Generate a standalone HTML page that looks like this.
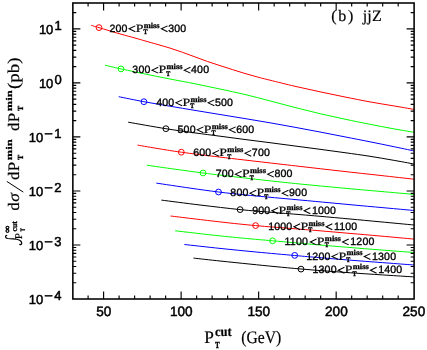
<!DOCTYPE html>
<html><head><meta charset="utf-8"><style>html,body{margin:0;padding:0;background:#fff}svg{display:block;will-change:transform}text{font-family:"Liberation Sans",sans-serif;text-rendering:geometricPrecision}.s{font-family:"Liberation Serif",serif}.sb{font-family:"Liberation Serif",serif;font-weight:bold}</style></head><body>
<svg width="427" height="350" viewBox="0 0 427 350">
<path d="M91.00,25.30 C92.33,25.69 94.17,26.22 99.00,27.65 C103.83,29.08 114.00,32.17 120.00,33.90 C126.00,35.62 130.83,36.83 135.00,38.00 C139.17,39.17 141.17,39.80 145.00,40.90 C148.83,42.00 153.83,43.40 158.00,44.60 C162.17,45.80 165.92,46.82 170.00,48.10 C174.08,49.38 178.33,50.83 182.50,52.30 C186.67,53.77 190.83,55.37 195.00,56.90 C199.17,58.43 203.33,60.05 207.50,61.50 C211.67,62.95 215.83,64.25 220.00,65.60 C224.17,66.95 228.33,68.28 232.50,69.60 C236.67,70.92 240.83,72.27 245.00,73.50 C249.17,74.73 253.33,75.88 257.50,77.00 C261.67,78.12 263.75,78.65 270.00,80.20 C276.25,81.75 286.67,84.37 295.00,86.30 C303.33,88.23 311.67,90.02 320.00,91.80 C328.33,93.58 336.67,95.32 345.00,97.00 C353.33,98.68 362.17,100.47 370.00,101.90 C377.83,103.33 384.67,104.35 392.00,105.60 C399.33,106.85 410.33,108.77 414.00,109.40" fill="none" stroke="#ff0000" stroke-width="1.0"/>
<circle cx="99.0" cy="27.6" r="2.9" fill="none" stroke="#ff0000" stroke-width="1"/>
<path d="M104.90,65.20 C107.58,65.82 113.48,67.27 121.00,68.90 C128.52,70.53 141.83,73.32 150.00,75.00 C158.17,76.68 162.50,77.53 170.00,79.00 C177.50,80.47 186.67,82.13 195.00,83.80 C203.33,85.47 211.67,87.22 220.00,89.00 C228.33,90.78 236.67,92.52 245.00,94.50 C253.33,96.48 261.67,98.73 270.00,100.90 C278.33,103.07 286.67,105.37 295.00,107.50 C303.33,109.63 311.67,111.75 320.00,113.70 C328.33,115.65 336.67,117.43 345.00,119.20 C353.33,120.97 362.17,122.75 370.00,124.30 C377.83,125.85 384.67,127.17 392.00,128.50 C399.33,129.83 410.33,131.67 414.00,132.30" fill="none" stroke="#00ff00" stroke-width="1.0"/>
<circle cx="121.0" cy="68.9" r="2.9" fill="none" stroke="#00ff00" stroke-width="1"/>
<path d="M118.70,96.70 C122.90,97.53 135.35,100.12 143.90,101.70 C152.45,103.28 161.48,104.75 170.00,106.20 C178.52,107.65 186.67,109.02 195.00,110.40 C203.33,111.78 211.67,113.13 220.00,114.50 C228.33,115.87 236.67,117.22 245.00,118.60 C253.33,119.98 261.67,121.35 270.00,122.80 C278.33,124.25 286.67,125.77 295.00,127.30 C303.33,128.83 311.67,130.40 320.00,132.00 C328.33,133.60 336.67,135.27 345.00,136.90 C353.33,138.53 362.17,140.23 370.00,141.80 C377.83,143.37 384.67,144.78 392.00,146.30 C399.33,147.82 410.33,150.13 414.00,150.90" fill="none" stroke="#0000ff" stroke-width="1.0"/>
<circle cx="143.9" cy="101.7" r="2.9" fill="none" stroke="#0000ff" stroke-width="1"/>
<path d="M128.20,122.20 C134.48,123.28 154.77,126.92 165.90,128.70 C177.03,130.48 185.98,131.65 195.00,132.90 C204.02,134.15 211.67,135.10 220.00,136.20 C228.33,137.30 236.67,138.42 245.00,139.50 C253.33,140.58 261.67,141.62 270.00,142.70 C278.33,143.78 286.67,144.90 295.00,146.00 C303.33,147.10 311.67,148.18 320.00,149.30 C328.33,150.42 336.67,151.53 345.00,152.70 C353.33,153.87 362.17,155.08 370.00,156.30 C377.83,157.52 384.67,158.72 392.00,160.00 C399.33,161.28 410.33,163.33 414.00,164.00" fill="none" stroke="#000000" stroke-width="1.0"/>
<circle cx="165.9" cy="128.7" r="2.9" fill="none" stroke="#000000" stroke-width="1"/>
<path d="M137.50,145.10 C141.25,145.73 152.70,147.72 160.00,148.90 C167.30,150.08 171.30,150.83 181.30,152.20 C191.30,153.57 205.72,155.37 220.00,157.10 C234.28,158.83 253.67,161.05 267.00,162.60 C280.33,164.15 287.50,164.97 300.00,166.40 C312.50,167.83 328.67,169.70 342.00,171.20 C355.33,172.70 368.00,174.07 380.00,175.40 C392.00,176.73 408.33,178.57 414.00,179.20" fill="none" stroke="#ff0000" stroke-width="1.0"/>
<circle cx="181.3" cy="152.2" r="2.9" fill="none" stroke="#ff0000" stroke-width="1"/>
<path d="M146.90,165.20 C151.58,165.87 165.65,167.90 175.00,169.20 C184.35,170.50 195.50,172.02 203.00,173.00 C210.50,173.98 209.33,173.85 220.00,175.10 C230.67,176.35 253.67,179.02 267.00,180.50 C280.33,181.98 287.50,182.75 300.00,184.00 C312.50,185.25 328.67,186.77 342.00,188.00 C355.33,189.23 368.00,190.33 380.00,191.40 C392.00,192.47 408.33,193.90 414.00,194.40" fill="none" stroke="#00ff00" stroke-width="1.0"/>
<circle cx="203.0" cy="173.0" r="2.9" fill="none" stroke="#00ff00" stroke-width="1"/>
<path d="M156.30,183.10 C161.92,183.93 179.63,186.62 190.00,188.10 C200.37,189.58 209.33,190.87 218.50,192.00 C227.67,193.13 236.92,194.07 245.00,194.90 C253.08,195.73 257.83,196.15 267.00,197.00 C276.17,197.85 289.50,199.03 300.00,200.00 C310.50,200.97 320.00,201.87 330.00,202.80 C340.00,203.73 350.00,204.68 360.00,205.60 C370.00,206.52 381.00,207.48 390.00,208.30 C399.00,209.12 410.00,210.13 414.00,210.50" fill="none" stroke="#0000ff" stroke-width="1.0"/>
<circle cx="218.5" cy="192.0" r="2.9" fill="none" stroke="#0000ff" stroke-width="1"/>
<path d="M161.40,200.10 C167.83,200.92 186.88,203.42 200.00,205.00 C213.12,206.58 228.43,208.40 240.10,209.60 C251.77,210.80 260.02,211.37 270.00,212.20 C279.98,213.03 291.67,213.92 300.00,214.60 C308.33,215.28 311.67,215.57 320.00,216.30 C328.33,217.03 340.00,218.08 350.00,219.00 C360.00,219.92 369.33,220.80 380.00,221.80 C390.67,222.80 408.33,224.47 414.00,225.00" fill="none" stroke="#000000" stroke-width="1.0"/>
<circle cx="240.1" cy="209.6" r="2.9" fill="none" stroke="#000000" stroke-width="1"/>
<path d="M170.50,216.00 C178.75,216.98 205.82,220.30 220.00,221.90 C234.18,223.50 243.93,224.52 255.60,225.60 C267.27,226.68 279.27,227.53 290.00,228.40 C300.73,229.27 310.00,229.97 320.00,230.80 C330.00,231.63 340.00,232.53 350.00,233.40 C360.00,234.27 369.33,235.05 380.00,236.00 C390.67,236.95 408.33,238.58 414.00,239.10" fill="none" stroke="#ff0000" stroke-width="1.0"/>
<circle cx="255.6" cy="225.6" r="2.9" fill="none" stroke="#ff0000" stroke-width="1"/>
<path d="M175.20,230.80 C182.67,231.65 207.53,234.57 220.00,235.90 C232.47,237.23 241.23,237.98 250.00,238.80 C258.77,239.62 260.93,239.77 272.60,240.80 C284.27,241.83 307.10,243.88 320.00,245.00 C332.90,246.12 340.00,246.68 350.00,247.50 C360.00,248.32 369.33,249.07 380.00,249.90 C390.67,250.73 408.33,252.07 414.00,252.50" fill="none" stroke="#00ff00" stroke-width="1.0"/>
<circle cx="272.6" cy="240.8" r="2.9" fill="none" stroke="#00ff00" stroke-width="1"/>
<path d="M184.40,244.50 C190.33,245.15 207.90,247.13 220.00,248.40 C232.10,249.67 244.55,250.92 257.00,252.10 C269.45,253.28 284.20,254.57 294.70,255.50 C305.20,256.43 309.62,256.83 320.00,257.70 C330.38,258.57 345.33,259.78 357.00,260.70 C368.67,261.62 380.50,262.48 390.00,263.20 C399.50,263.92 410.00,264.70 414.00,265.00" fill="none" stroke="#0000ff" stroke-width="1.0"/>
<circle cx="294.7" cy="255.4" r="2.9" fill="none" stroke="#0000ff" stroke-width="1"/>
<path d="M193.50,258.10 C197.92,258.58 210.58,260.00 220.00,261.00 C229.42,262.00 240.83,263.17 250.00,264.10 C259.17,265.03 266.50,265.78 275.00,266.60 C283.50,267.42 291.83,268.22 301.00,269.00 C310.17,269.78 320.50,270.58 330.00,271.30 C339.50,272.02 348.00,272.62 358.00,273.30 C368.00,273.98 380.67,274.80 390.00,275.40 C399.33,276.00 410.00,276.65 414.00,276.90" fill="none" stroke="#000000" stroke-width="1.0"/>
<circle cx="301.0" cy="269.1" r="2.9" fill="none" stroke="#000000" stroke-width="1"/>
<path d="M88.09,3.00 v3.40 M88.09,299.00 v-3.40 M103.60,3.00 v7.50 M103.60,299.00 v-7.50 M119.10,3.00 v3.40 M119.10,299.00 v-3.40 M134.61,3.00 v3.40 M134.61,299.00 v-3.40 M150.12,3.00 v3.40 M150.12,299.00 v-3.40 M165.62,3.00 v3.40 M165.62,299.00 v-3.40 M181.12,3.00 v7.50 M181.12,299.00 v-7.50 M196.63,3.00 v3.40 M196.63,299.00 v-3.40 M212.13,3.00 v3.40 M212.13,299.00 v-3.40 M227.64,3.00 v3.40 M227.64,299.00 v-3.40 M243.14,3.00 v3.40 M243.14,299.00 v-3.40 M258.65,3.00 v7.50 M258.65,299.00 v-7.50 M274.15,3.00 v3.40 M274.15,299.00 v-3.40 M289.66,3.00 v3.40 M289.66,299.00 v-3.40 M305.16,3.00 v3.40 M305.16,299.00 v-3.40 M320.67,3.00 v3.40 M320.67,299.00 v-3.40 M336.17,3.00 v7.50 M336.17,299.00 v-7.50 M351.68,3.00 v3.40 M351.68,299.00 v-3.40 M367.18,3.00 v3.40 M367.18,299.00 v-3.40 M382.69,3.00 v3.40 M382.69,299.00 v-3.40 M398.19,3.00 v3.40 M398.19,299.00 v-3.40 M72.85,282.74 h3.40 M414.10,282.74 h-3.40 M72.85,273.23 h3.40 M414.10,273.23 h-3.40 M72.85,266.48 h3.40 M414.10,266.48 h-3.40 M72.85,261.24 h3.40 M414.10,261.24 h-3.40 M72.85,256.96 h3.40 M414.10,256.96 h-3.40 M72.85,253.35 h3.40 M414.10,253.35 h-3.40 M72.85,250.22 h3.40 M414.10,250.22 h-3.40 M72.85,247.45 h3.40 M414.10,247.45 h-3.40 M72.85,244.98 h7.50 M414.10,244.98 h-7.50 M72.85,228.72 h3.40 M414.10,228.72 h-3.40 M72.85,219.21 h3.40 M414.10,219.21 h-3.40 M72.85,212.46 h3.40 M414.10,212.46 h-3.40 M72.85,207.22 h3.40 M414.10,207.22 h-3.40 M72.85,202.94 h3.40 M414.10,202.94 h-3.40 M72.85,199.33 h3.40 M414.10,199.33 h-3.40 M72.85,196.20 h3.40 M414.10,196.20 h-3.40 M72.85,193.43 h3.40 M414.10,193.43 h-3.40 M72.85,190.96 h7.50 M414.10,190.96 h-7.50 M72.85,174.70 h3.40 M414.10,174.70 h-3.40 M72.85,165.19 h3.40 M414.10,165.19 h-3.40 M72.85,158.44 h3.40 M414.10,158.44 h-3.40 M72.85,153.20 h3.40 M414.10,153.20 h-3.40 M72.85,148.92 h3.40 M414.10,148.92 h-3.40 M72.85,145.31 h3.40 M414.10,145.31 h-3.40 M72.85,142.18 h3.40 M414.10,142.18 h-3.40 M72.85,139.41 h3.40 M414.10,139.41 h-3.40 M72.85,136.94 h7.50 M414.10,136.94 h-7.50 M72.85,120.68 h3.40 M414.10,120.68 h-3.40 M72.85,111.17 h3.40 M414.10,111.17 h-3.40 M72.85,104.42 h3.40 M414.10,104.42 h-3.40 M72.85,99.18 h3.40 M414.10,99.18 h-3.40 M72.85,94.90 h3.40 M414.10,94.90 h-3.40 M72.85,91.29 h3.40 M414.10,91.29 h-3.40 M72.85,88.16 h3.40 M414.10,88.16 h-3.40 M72.85,85.39 h3.40 M414.10,85.39 h-3.40 M72.85,82.92 h7.50 M414.10,82.92 h-7.50 M72.85,66.66 h3.40 M414.10,66.66 h-3.40 M72.85,57.15 h3.40 M414.10,57.15 h-3.40 M72.85,50.40 h3.40 M414.10,50.40 h-3.40 M72.85,45.16 h3.40 M414.10,45.16 h-3.40 M72.85,40.88 h3.40 M414.10,40.88 h-3.40 M72.85,37.27 h3.40 M414.10,37.27 h-3.40 M72.85,34.14 h3.40 M414.10,34.14 h-3.40 M72.85,31.37 h3.40 M414.10,31.37 h-3.40 M72.85,28.90 h7.50 M414.10,28.90 h-7.50 M72.85,12.64 h3.40 M414.10,12.64 h-3.40" stroke="#000" stroke-width="1.15" fill="none"/>
<rect x="72.85" y="3.00" width="341.25" height="296.00" fill="none" stroke="#000" stroke-width="1.55"/>
<g stroke="#000" stroke-width="0.35" font-size="10.6" letter-spacing="0.15">
<text x="109.45" y="31.85">200</text>
<path d="M135.35,25.85 L129.15,28.80 L135.35,31.75" fill="none" stroke="#000" stroke-width="1.05" stroke-linejoin="miter"/>
<text class="s" x="135.65" y="31.85" font-size="11.2" textLength="7.7" lengthAdjust="spacingAndGlyphs" stroke-width="0.2" letter-spacing="0">P</text>
<text class="sb" x="143.65" y="27.65" font-size="7.8" textLength="16" lengthAdjust="spacingAndGlyphs" stroke-width="0.3" letter-spacing="0">miss</text>
<text class="sb" x="143.45" y="34.25" font-size="6.9" textLength="4.0" lengthAdjust="spacingAndGlyphs" stroke-width="0.4" letter-spacing="0">T</text>
<path d="M167.55,25.85 L161.35,28.80 L167.55,31.75" fill="none" stroke="#000" stroke-width="1.05" stroke-linejoin="miter"/>
<text x="168.15" y="31.85">300</text>
</g>
<g stroke="#000" stroke-width="0.35" font-size="10.6" letter-spacing="0.15">
<text x="132.35" y="73.20">300</text>
<path d="M158.25,67.20 L152.05,70.15 L158.25,73.10" fill="none" stroke="#000" stroke-width="1.05" stroke-linejoin="miter"/>
<text class="s" x="158.55" y="73.20" font-size="11.2" textLength="7.7" lengthAdjust="spacingAndGlyphs" stroke-width="0.2" letter-spacing="0">P</text>
<text class="sb" x="166.55" y="69.00" font-size="7.8" textLength="16" lengthAdjust="spacingAndGlyphs" stroke-width="0.3" letter-spacing="0">miss</text>
<text class="sb" x="166.35" y="75.60" font-size="6.9" textLength="4.0" lengthAdjust="spacingAndGlyphs" stroke-width="0.4" letter-spacing="0">T</text>
<path d="M190.45,67.20 L184.25,70.15 L190.45,73.10" fill="none" stroke="#000" stroke-width="1.05" stroke-linejoin="miter"/>
<text x="191.05" y="73.20">400</text>
</g>
<g stroke="#000" stroke-width="0.35" font-size="10.6" letter-spacing="0.15">
<text x="156.25" y="105.90">400</text>
<path d="M182.15,99.90 L175.95,102.85 L182.15,105.80" fill="none" stroke="#000" stroke-width="1.05" stroke-linejoin="miter"/>
<text class="s" x="182.45" y="105.90" font-size="11.2" textLength="7.7" lengthAdjust="spacingAndGlyphs" stroke-width="0.2" letter-spacing="0">P</text>
<text class="sb" x="190.45" y="101.70" font-size="7.8" textLength="16" lengthAdjust="spacingAndGlyphs" stroke-width="0.3" letter-spacing="0">miss</text>
<text class="sb" x="190.25" y="108.30" font-size="6.9" textLength="4.0" lengthAdjust="spacingAndGlyphs" stroke-width="0.4" letter-spacing="0">T</text>
<path d="M214.35,99.90 L208.15,102.85 L214.35,105.80" fill="none" stroke="#000" stroke-width="1.05" stroke-linejoin="miter"/>
<text x="214.95" y="105.90">500</text>
</g>
<g stroke="#000" stroke-width="0.35" font-size="10.6" letter-spacing="0.15">
<text x="177.55" y="132.90">500</text>
<path d="M203.45,126.90 L197.25,129.85 L203.45,132.80" fill="none" stroke="#000" stroke-width="1.05" stroke-linejoin="miter"/>
<text class="s" x="203.75" y="132.90" font-size="11.2" textLength="7.7" lengthAdjust="spacingAndGlyphs" stroke-width="0.2" letter-spacing="0">P</text>
<text class="sb" x="211.75" y="128.70" font-size="7.8" textLength="16" lengthAdjust="spacingAndGlyphs" stroke-width="0.3" letter-spacing="0">miss</text>
<text class="sb" x="211.55" y="135.30" font-size="6.9" textLength="4.0" lengthAdjust="spacingAndGlyphs" stroke-width="0.4" letter-spacing="0">T</text>
<path d="M235.65,126.90 L229.45,129.85 L235.65,132.80" fill="none" stroke="#000" stroke-width="1.05" stroke-linejoin="miter"/>
<text x="236.25" y="132.90">600</text>
</g>
<g stroke="#000" stroke-width="0.35" font-size="10.6" letter-spacing="0.15">
<text x="193.15" y="156.40">600</text>
<path d="M219.05,150.40 L212.85,153.35 L219.05,156.30" fill="none" stroke="#000" stroke-width="1.05" stroke-linejoin="miter"/>
<text class="s" x="219.35" y="156.40" font-size="11.2" textLength="7.7" lengthAdjust="spacingAndGlyphs" stroke-width="0.2" letter-spacing="0">P</text>
<text class="sb" x="227.35" y="152.20" font-size="7.8" textLength="16" lengthAdjust="spacingAndGlyphs" stroke-width="0.3" letter-spacing="0">miss</text>
<text class="sb" x="227.15" y="158.80" font-size="6.9" textLength="4.0" lengthAdjust="spacingAndGlyphs" stroke-width="0.4" letter-spacing="0">T</text>
<path d="M251.25,150.40 L245.05,153.35 L251.25,156.30" fill="none" stroke="#000" stroke-width="1.05" stroke-linejoin="miter"/>
<text x="251.85" y="156.40">700</text>
</g>
<g stroke="#000" stroke-width="0.35" font-size="10.6" letter-spacing="0.15">
<text x="215.75" y="177.20">700</text>
<path d="M241.65,171.20 L235.45,174.15 L241.65,177.10" fill="none" stroke="#000" stroke-width="1.05" stroke-linejoin="miter"/>
<text class="s" x="241.95" y="177.20" font-size="11.2" textLength="7.7" lengthAdjust="spacingAndGlyphs" stroke-width="0.2" letter-spacing="0">P</text>
<text class="sb" x="249.95" y="173.00" font-size="7.8" textLength="16" lengthAdjust="spacingAndGlyphs" stroke-width="0.3" letter-spacing="0">miss</text>
<text class="sb" x="249.75" y="179.60" font-size="6.9" textLength="4.0" lengthAdjust="spacingAndGlyphs" stroke-width="0.4" letter-spacing="0">T</text>
<path d="M273.85,171.20 L267.65,174.15 L273.85,177.10" fill="none" stroke="#000" stroke-width="1.05" stroke-linejoin="miter"/>
<text x="274.45" y="177.20">800</text>
</g>
<g stroke="#000" stroke-width="0.35" font-size="10.6" letter-spacing="0.15">
<text x="230.35" y="196.20">800</text>
<path d="M256.25,190.20 L250.05,193.15 L256.25,196.10" fill="none" stroke="#000" stroke-width="1.05" stroke-linejoin="miter"/>
<text class="s" x="256.55" y="196.20" font-size="11.2" textLength="7.7" lengthAdjust="spacingAndGlyphs" stroke-width="0.2" letter-spacing="0">P</text>
<text class="sb" x="264.55" y="192.00" font-size="7.8" textLength="16" lengthAdjust="spacingAndGlyphs" stroke-width="0.3" letter-spacing="0">miss</text>
<text class="sb" x="264.35" y="198.60" font-size="6.9" textLength="4.0" lengthAdjust="spacingAndGlyphs" stroke-width="0.4" letter-spacing="0">T</text>
<path d="M288.45,190.20 L282.25,193.15 L288.45,196.10" fill="none" stroke="#000" stroke-width="1.05" stroke-linejoin="miter"/>
<text x="289.05" y="196.20">900</text>
</g>
<g stroke="#000" stroke-width="0.35" font-size="10.6" letter-spacing="0.15">
<text x="252.25" y="213.80">900</text>
<path d="M278.15,207.80 L271.95,210.75 L278.15,213.70" fill="none" stroke="#000" stroke-width="1.05" stroke-linejoin="miter"/>
<text class="s" x="278.45" y="213.80" font-size="11.2" textLength="7.7" lengthAdjust="spacingAndGlyphs" stroke-width="0.2" letter-spacing="0">P</text>
<text class="sb" x="286.45" y="209.60" font-size="7.8" textLength="16" lengthAdjust="spacingAndGlyphs" stroke-width="0.3" letter-spacing="0">miss</text>
<text class="sb" x="286.25" y="216.20" font-size="6.9" textLength="4.0" lengthAdjust="spacingAndGlyphs" stroke-width="0.4" letter-spacing="0">T</text>
<path d="M310.35,207.80 L304.15,210.75 L310.35,213.70" fill="none" stroke="#000" stroke-width="1.05" stroke-linejoin="miter"/>
<text x="311.95" y="213.80">1000</text>
</g>
<g stroke="#000" stroke-width="0.35" font-size="10.6" letter-spacing="0.15">
<text x="268.20" y="229.80">1000</text>
<path d="M300.14,223.80 L293.94,226.75 L300.14,229.70" fill="none" stroke="#000" stroke-width="1.05" stroke-linejoin="miter"/>
<text class="s" x="300.44" y="229.80" font-size="11.2" textLength="7.7" lengthAdjust="spacingAndGlyphs" stroke-width="0.2" letter-spacing="0">P</text>
<text class="sb" x="308.44" y="225.60" font-size="7.8" textLength="16" lengthAdjust="spacingAndGlyphs" stroke-width="0.3" letter-spacing="0">miss</text>
<text class="sb" x="308.24" y="232.20" font-size="6.9" textLength="4.0" lengthAdjust="spacingAndGlyphs" stroke-width="0.4" letter-spacing="0">T</text>
<path d="M332.34,223.80 L326.14,226.75 L332.34,229.70" fill="none" stroke="#000" stroke-width="1.05" stroke-linejoin="miter"/>
<text x="333.94" y="229.80">1100</text>
</g>
<g stroke="#000" stroke-width="0.35" font-size="10.6" letter-spacing="0.15">
<text x="284.60" y="245.00">1100</text>
<path d="M316.54,239.00 L310.34,241.95 L316.54,244.90" fill="none" stroke="#000" stroke-width="1.05" stroke-linejoin="miter"/>
<text class="s" x="316.84" y="245.00" font-size="11.2" textLength="7.7" lengthAdjust="spacingAndGlyphs" stroke-width="0.2" letter-spacing="0">P</text>
<text class="sb" x="324.84" y="240.80" font-size="7.8" textLength="16" lengthAdjust="spacingAndGlyphs" stroke-width="0.3" letter-spacing="0">miss</text>
<text class="sb" x="324.64" y="247.40" font-size="6.9" textLength="4.0" lengthAdjust="spacingAndGlyphs" stroke-width="0.4" letter-spacing="0">T</text>
<path d="M348.74,239.00 L342.54,241.95 L348.74,244.90" fill="none" stroke="#000" stroke-width="1.05" stroke-linejoin="miter"/>
<text x="350.34" y="245.00">1200</text>
</g>
<g stroke="#000" stroke-width="0.35" font-size="10.6" letter-spacing="0.15">
<text x="306.30" y="259.60">1200</text>
<path d="M338.24,253.60 L332.04,256.55 L338.24,259.50" fill="none" stroke="#000" stroke-width="1.05" stroke-linejoin="miter"/>
<text class="s" x="338.54" y="259.60" font-size="11.2" textLength="7.7" lengthAdjust="spacingAndGlyphs" stroke-width="0.2" letter-spacing="0">P</text>
<text class="sb" x="346.54" y="255.40" font-size="7.8" textLength="16" lengthAdjust="spacingAndGlyphs" stroke-width="0.3" letter-spacing="0">miss</text>
<text class="sb" x="346.34" y="262.00" font-size="6.9" textLength="4.0" lengthAdjust="spacingAndGlyphs" stroke-width="0.4" letter-spacing="0">T</text>
<path d="M370.44,253.60 L364.24,256.55 L370.44,259.50" fill="none" stroke="#000" stroke-width="1.05" stroke-linejoin="miter"/>
<text x="372.04" y="259.60">1300</text>
</g>
<g stroke="#000" stroke-width="0.35" font-size="10.6" letter-spacing="0.15">
<text x="312.50" y="273.30">1300</text>
<path d="M344.44,267.30 L338.24,270.25 L344.44,273.20" fill="none" stroke="#000" stroke-width="1.05" stroke-linejoin="miter"/>
<text class="s" x="344.74" y="273.30" font-size="11.2" textLength="7.7" lengthAdjust="spacingAndGlyphs" stroke-width="0.2" letter-spacing="0">P</text>
<text class="sb" x="352.74" y="269.10" font-size="7.8" textLength="16" lengthAdjust="spacingAndGlyphs" stroke-width="0.3" letter-spacing="0">miss</text>
<text class="sb" x="352.54" y="275.70" font-size="6.9" textLength="4.0" lengthAdjust="spacingAndGlyphs" stroke-width="0.4" letter-spacing="0">T</text>
<path d="M376.64,267.30 L370.44,270.25 L376.64,273.20" fill="none" stroke="#000" stroke-width="1.05" stroke-linejoin="miter"/>
<text x="378.24" y="273.30">1400</text>
</g>
<g font-size="13.6" text-anchor="middle" stroke="#000" stroke-width="0.5">
<text x="103.80" y="315.7">50</text>
<text x="181.32" y="315.7">100</text>
<text x="258.85" y="315.7">150</text>
<text x="336.37" y="315.7">200</text>
<text x="413.90" y="315.7">250</text>
</g>
<g font-size="13" stroke="#000" stroke-width="0.5">
<text x="28.7" y="304.30">10</text><text x="44.3" y="300.20" textLength="8.6" lengthAdjust="spacingAndGlyphs">−</text><text x="54.2" y="300.10">4</text>
<text x="28.7" y="250.28">10</text><text x="44.3" y="246.18" textLength="8.6" lengthAdjust="spacingAndGlyphs">−</text><text x="54.2" y="246.08">3</text>
<text x="28.7" y="196.26">10</text><text x="44.3" y="192.16" textLength="8.6" lengthAdjust="spacingAndGlyphs">−</text><text x="54.2" y="192.06">2</text>
<text x="28.7" y="142.24">10</text><text x="44.3" y="138.14" textLength="8.6" lengthAdjust="spacingAndGlyphs">−</text><text x="54.2" y="138.04">1</text>
<text x="38.9" y="88.22">10</text><text x="54.4" y="83.92">0</text>
<text x="38.9" y="34.20">10</text><text x="54.4" y="29.90">1</text>
</g>
<text class="s" x="331.3" y="21.4" font-size="16" textLength="22" lengthAdjust="spacing" stroke="#000" stroke-width="0.2">(b)</text>
<text class="s" x="362.7" y="21.4" font-size="16" textLength="19" lengthAdjust="spacing" stroke="#000" stroke-width="0.2">jjZ</text>
<g stroke="#000" stroke-width="0.2">
<text class="s" x="204.3" y="343.1" font-size="17.5" textLength="9.6" lengthAdjust="spacingAndGlyphs">P</text>
<text class="sb" x="215" y="335.7" font-size="13.5" textLength="16.8" lengthAdjust="spacingAndGlyphs">cut</text>
<text class="sb" x="215" y="348.3" font-size="9.2" textLength="4.8" lengthAdjust="spacingAndGlyphs" stroke="#000" stroke-width="0.3">T</text>
<text class="s" x="241.3" y="343.1" font-size="17.5" textLength="40" lengthAdjust="spacingAndGlyphs">(GeV)</text>
</g>
<g transform="translate(18.7,244) rotate(-90)" stroke="#000" stroke-width="0.2">
<path transform="rotate(90) translate(-18.7,-244)" d="M6.7,235.3 C5.0,235.6 5.0,238.2 7.7,238.5 L13,238.8 C17.5,239 21.6,240.3 21.7,243 C21.7,244.6 20.6,244.9 19.8,244.4" stroke="#000" stroke-width="1.25" fill="none" stroke-linecap="round"/>
<text class="sb" x="11.2" y="-9.0" font-size="8.8" textLength="7" lengthAdjust="spacingAndGlyphs" stroke="#000" stroke-width="0.55">∞</text>
<text class="s" x="4.8" y="3.6" font-size="10.5" textLength="6.2" lengthAdjust="spacingAndGlyphs">P</text>
<text class="sb" x="12.5" y="-1.4" font-size="8" textLength="10.4" lengthAdjust="spacingAndGlyphs" stroke="#000" stroke-width="0.3">cut</text>
<text x="12.5" y="6.6" font-size="6.6" font-weight="bold" textLength="3.5" lengthAdjust="spacingAndGlyphs">T</text>
<text class="s" x="33.6" y="0" font-size="16">d</text>
<text class="s" x="42.3" y="0" font-size="16" font-style="italic" textLength="8.6" lengthAdjust="spacingAndGlyphs">σ</text>
<path d="M51.9,4.6 L62.6,-11.9" stroke="#000" stroke-width="1" fill="none"/>
<text class="s" x="64.3" y="0" font-size="16">d</text>
<text class="s" x="72.8" y="0" font-size="16" textLength="9.4" lengthAdjust="spacingAndGlyphs">P</text>
<text class="sb" x="83.8" y="-6.9" font-size="8.8" textLength="20.8" lengthAdjust="spacingAndGlyphs" stroke="#000" stroke-width="0.25">min</text>
<text class="sb" x="84.0" y="4.7" font-size="7.8" textLength="5.2" lengthAdjust="spacingAndGlyphs" stroke="#000" stroke-width="0.3">T</text>
<text class="s" x="113.3" y="0" font-size="16">d</text>
<text class="s" x="121.8" y="0" font-size="16" textLength="9.4" lengthAdjust="spacingAndGlyphs">P</text>
<text class="sb" x="132.8" y="-6.9" font-size="8.8" textLength="20.8" lengthAdjust="spacingAndGlyphs" stroke="#000" stroke-width="0.25">min</text>
<text class="sb" x="133.0" y="4.7" font-size="7.8" textLength="5.2" lengthAdjust="spacingAndGlyphs" stroke="#000" stroke-width="0.3">T</text>
<text class="s" x="154.9" y="0" font-size="16.5" textLength="31.6" lengthAdjust="spacingAndGlyphs">(pb)</text>
</g>
</svg></body></html>
